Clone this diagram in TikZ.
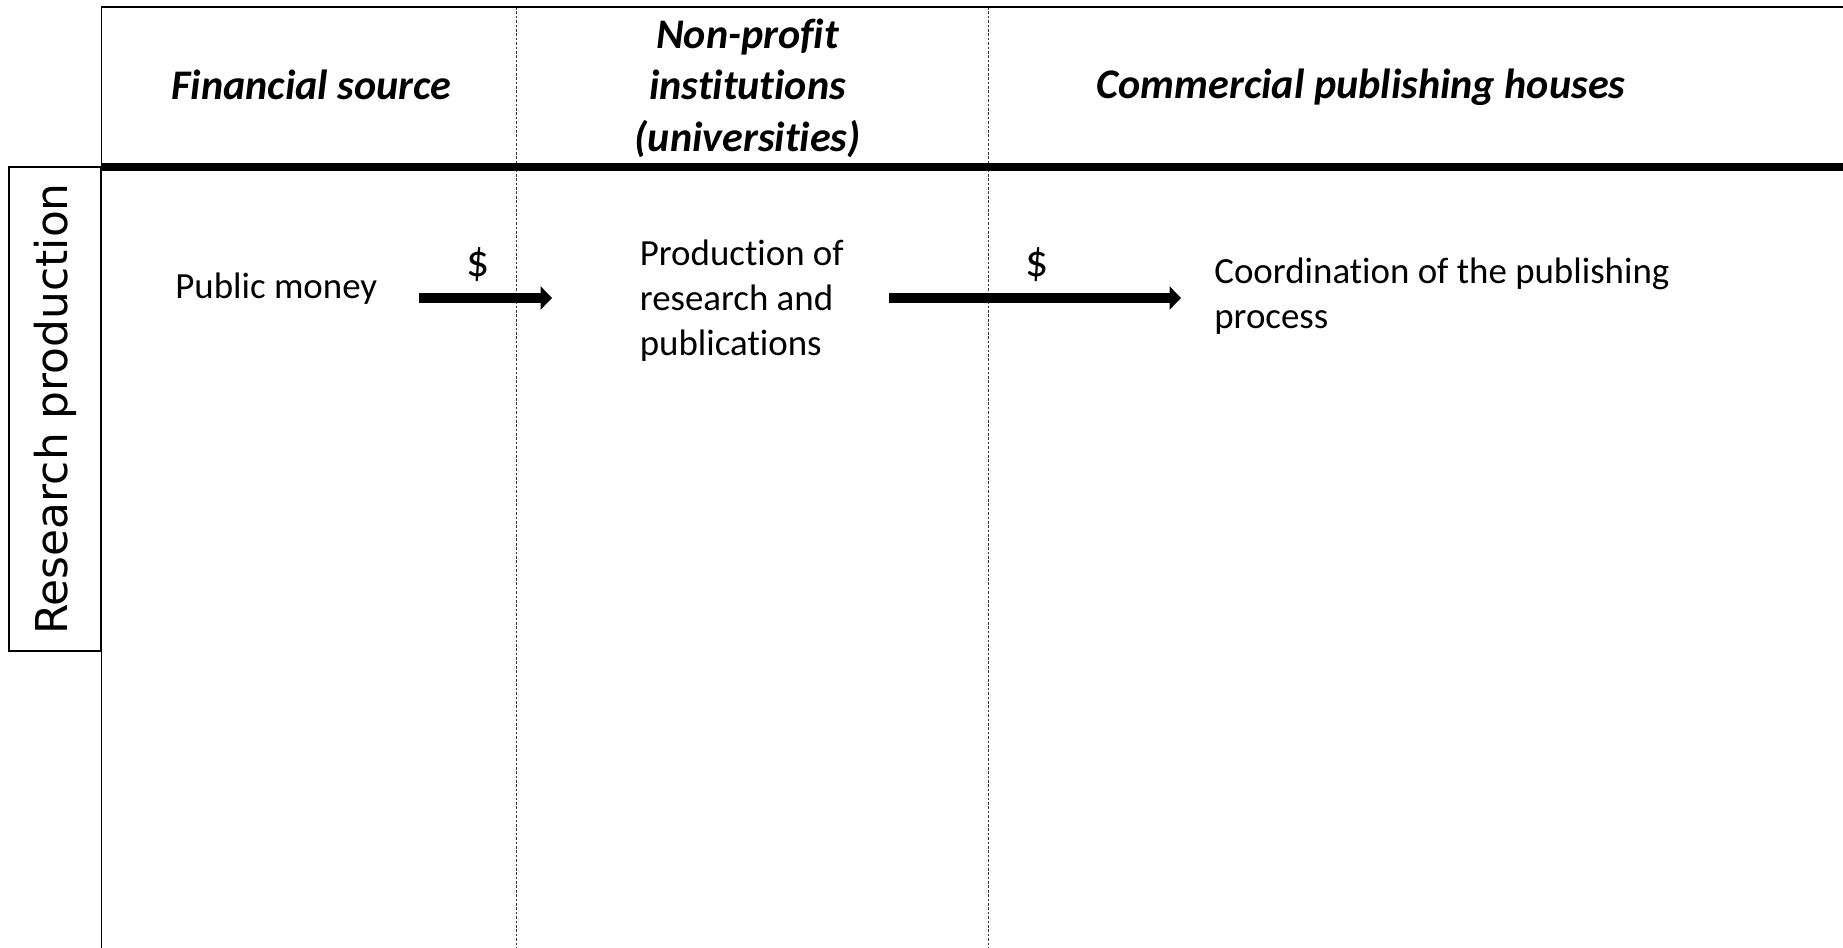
\documentclass[tikz,border=0pt]{standalone}
\usepackage{fontspec}
\setmainfont{Carlito}[Ligatures=NoCommon]
\newfontfamily\labelfont{DejaVu Sans}
\usetikzlibrary{positioning, arrows.meta}

\begin{document}
\begin{tikzpicture}[x=0.02cm, y=-0.02cm,
        % Estilos de la tabla
        header/.style={
            font=\fontsize{24}{29.3}\selectfont\bfseries\itshape,
            align=center,
            inner sep=0pt
        },
        body/.style={
            font=\fontsize{21}{25.6}\selectfont,
            align=left,
            inner sep=0pt,
            anchor=west
        },
        dollar/.style={font=\fontsize{26}{30}\selectfont, inner sep=0pt},
        flow/.style={line width=0.19cm, -{Triangle[length=0.23cm, width=0.46cm]}},
        divider/.style={line width=0.5pt, dash pattern=on 1.5pt off 1pt, black!80},
        rowlabel/.style={
            draw,
            line width=1.1pt,
            rotate=90,
            minimum width=9.68cm,
            minimum height=1.84cm,
            font=\labelfont\fontsize{25}{29}\selectfont
        }
    ]
        \useasboundingbox (0,0) rectangle (1843,947);

        % Frame
        \draw[divider] (516,7) -- (516,960);
        \draw[divider] (988,7) -- (988,960);
        \draw[line width=1.1pt] (1860,7) -- (101.5,7) -- (101.5,960);
        \draw[line width=4.2pt] (101.5,167) -- (1860,167);

        % Nodes
        \node[header] (source) at (311.5,85) {Financial source};
        \node[header] (nonprofit) at (747.6,88) {Non-profit\\institutions\\(universities)};
        \node[header] (commercial) at (1361,87.5) {Commercial publishing houses};
        \node[rowlabel] (research) at (55,409) {Research production};

        \node[body] (money) at (175,288.5) {Public money};
        \node[body] (prod) at (639.5,300.5) {Production of\\research and\\publications};
        \node[body] (coord) at (1214,296.5) {Coordination of the publishing\\process};
        \coordinate (lane) at (0,298);

        \node[dollar] (cash1) at (478.5,265) {\$};
        \node[dollar] (cash2) at (1037,265) {\$};

        % Lines
        \draw[flow, shorten <=0.83cm, shorten >=1.75cm] (money.east |- lane) -- (prod.west |- lane);
        \draw[flow, shorten <=0.89cm, shorten >=0.66cm] (prod.east |- lane) -- (coord.west |- lane);

\end{tikzpicture}
\end{document}
